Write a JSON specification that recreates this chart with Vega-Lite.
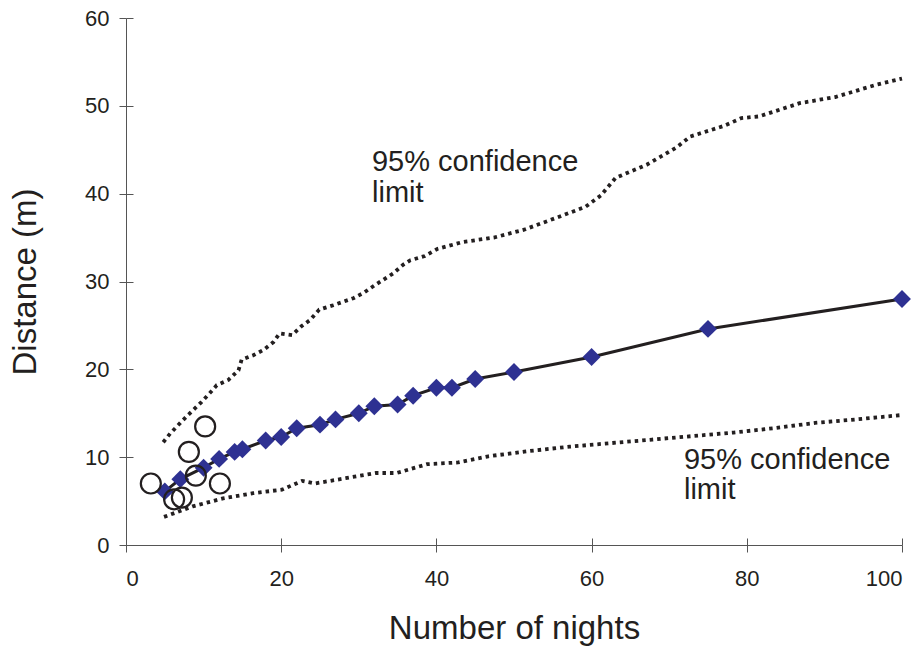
{
  "$schema": "https://vega.github.io/schema/vega-lite/v6.json",
  "width": 776,
  "height": 527,
  "autosize": {"type": "none"},
  "padding": {"left": 126, "top": 18, "right": 22, "bottom": 105},
  "background": "white",
  "config": {
    "view": {"stroke": null},
    "font": "Liberation Sans",
    "axis": {"grid": false, "domainColor": "#555555", "tickColor": "#555555", "labelColor": "#231f20", "titleColor": "#231f20", "labelFont": "Liberation Sans", "titleFont": "Liberation Sans", "titleFontWeight": "normal"}
  },
  "datasets": {
    "diamonds": [
      {"n": 5, "d": 6.1}, {"n": 7, "d": 7.5}, {"n": 10, "d": 8.8}, {"n": 12, "d": 9.8},
      {"n": 14, "d": 10.6}, {"n": 15, "d": 10.9}, {"n": 18, "d": 11.9}, {"n": 20, "d": 12.3},
      {"n": 22, "d": 13.3}, {"n": 25, "d": 13.7}, {"n": 27, "d": 14.3}, {"n": 30, "d": 15.0},
      {"n": 32, "d": 15.8}, {"n": 35, "d": 16.0}, {"n": 37, "d": 17.0}, {"n": 40, "d": 17.9},
      {"n": 42, "d": 17.9}, {"n": 45, "d": 18.9}, {"n": 50, "d": 19.7}, {"n": 60, "d": 21.4},
      {"n": 75, "d": 24.6}, {"n": 100, "d": 28.0}
    ],
    "upper": [
      {"n": 4.8, "d": 11.7}, {"n": 5.7, "d": 12.7}, {"n": 7, "d": 13.9}, {"n": 8, "d": 14.8},
      {"n": 9.75, "d": 16.3}, {"n": 10.8, "d": 17.3}, {"n": 11.7, "d": 18.2}, {"n": 13.2, "d": 18.8},
      {"n": 14.5, "d": 19.9}, {"n": 14.9, "d": 21.1}, {"n": 16.4, "d": 21.6}, {"n": 17.7, "d": 22.2},
      {"n": 19, "d": 23.1}, {"n": 19.8, "d": 24.1}, {"n": 21.4, "d": 23.9}, {"n": 22.6, "d": 24.9},
      {"n": 23.7, "d": 25.6}, {"n": 24.9, "d": 26.8}, {"n": 26.7, "d": 27.3}, {"n": 29.3, "d": 28.1},
      {"n": 30.6, "d": 28.7}, {"n": 32.1, "d": 29.6}, {"n": 34.4, "d": 30.9}, {"n": 35.7, "d": 31.9},
      {"n": 36.6, "d": 32.4}, {"n": 38.5, "d": 32.9}, {"n": 40.1, "d": 33.7}, {"n": 43.4, "d": 34.5},
      {"n": 47.4, "d": 35.0}, {"n": 51.3, "d": 35.9}, {"n": 55.3, "d": 37.2}, {"n": 59.2, "d": 38.5},
      {"n": 61.2, "d": 39.8}, {"n": 63.1, "d": 41.8}, {"n": 67.1, "d": 43.3}, {"n": 71, "d": 45.3},
      {"n": 72.7, "d": 46.5}, {"n": 77, "d": 47.7}, {"n": 79.3, "d": 48.6}, {"n": 81.6, "d": 48.8},
      {"n": 86.8, "d": 50.3}, {"n": 91.4, "d": 51.0}, {"n": 96.7, "d": 52.4}, {"n": 100, "d": 53.1}
    ],
    "lower": [
      {"n": 4.9, "d": 3.2}, {"n": 8.6, "d": 4.4}, {"n": 12.5, "d": 5.3}, {"n": 16.4, "d": 5.9},
      {"n": 20.1, "d": 6.3}, {"n": 22.7, "d": 7.3}, {"n": 24.3, "d": 7.0}, {"n": 28.3, "d": 7.6},
      {"n": 32.2, "d": 8.2}, {"n": 34.9, "d": 8.2}, {"n": 38.8, "d": 9.2}, {"n": 42.8, "d": 9.4},
      {"n": 46.7, "d": 10.1}, {"n": 52, "d": 10.7}, {"n": 57.2, "d": 11.2}, {"n": 62.5, "d": 11.6},
      {"n": 67.8, "d": 12.0}, {"n": 73, "d": 12.4}, {"n": 78.3, "d": 12.8}, {"n": 83.5, "d": 13.3},
      {"n": 88.8, "d": 13.9}, {"n": 94.1, "d": 14.3}, {"n": 100, "d": 14.8}
    ],
    "circles": [
      {"n": 3.2, "d": 7.0}, {"n": 6.2, "d": 5.2}, {"n": 7.2, "d": 5.4}, {"n": 8.1, "d": 10.6},
      {"n": 9.0, "d": 7.9}, {"n": 10.2, "d": 13.5}, {"n": 12.1, "d": 7.0}
    ],
    "labels": [
      {"n": 31.7, "d": 42.6, "t": "95% confidence"}, {"n": 31.7, "d": 39.1, "t": "limit"},
      {"n": 71.9, "d": 8.7, "t": "95% confidence"}, {"n": 71.9, "d": 5.2, "t": "limit"}
    ]
  },
  "layer": [
    {
      "data": {"name": "upper"},
      "mark": {"type": "line", "color": "#231f20", "strokeWidth": 3.8, "strokeDash": [3.5, 4]},
      "encoding": {
        "x": {"field": "n", "type": "quantitative", "scale": {"domain": [0, 100], "nice": false},
          "axis": {"orient": "bottom", "values": [0, 20, 40, 60, 80, 100], "tickSize": 7, "labelFontSize": 22, "labelPadding": 16, "title": "Number of nights", "titleFontSize": 33, "titlePadding": 23}},
        "y": {"field": "d", "type": "quantitative", "scale": {"domain": [0, 60], "nice": false},
          "axis": {"orient": "left", "values": [0, 10, 20, 30, 40, 50, 60], "tickSize": 7, "labelFontSize": 22, "labelPadding": 10, "title": "Distance (m)", "titleFontSize": 33, "titlePadding": 42}}
      }
    },
    {
      "data": {"name": "lower"},
      "mark": {"type": "line", "color": "#231f20", "strokeWidth": 3.8, "strokeDash": [3.5, 4]},
      "encoding": {
        "x": {"field": "n", "type": "quantitative", "axis": {"orient": "bottom", "values": [0, 20, 40, 60, 80, 100], "tickSize": -7, "labels": false, "domain": false, "title": null}},
        "y": {"field": "d", "type": "quantitative", "axis": {"orient": "left", "values": [0, 10, 20, 30, 40, 50, 60], "tickSize": -7, "labels": false, "domain": false, "title": null}}
      }
    },
    {
      "data": {"name": "diamonds"},
      "mark": {"type": "line", "color": "#231f20", "strokeWidth": 3},
      "encoding": {
        "x": {"field": "n", "type": "quantitative", "axis": null},
        "y": {"field": "d", "type": "quantitative", "axis": null}
      }
    },
    {
      "data": {"name": "diamonds"},
      "mark": {"type": "point", "shape": "diamond", "filled": true, "color": "#2e3192", "size": 320, "opacity": 1},
      "encoding": {
        "x": {"field": "n", "type": "quantitative", "axis": null},
        "y": {"field": "d", "type": "quantitative", "axis": null}
      }
    },
    {
      "data": {"name": "circles"},
      "mark": {"type": "point", "shape": "circle", "filled": false, "color": "#231f20", "strokeWidth": 2.2, "size": 400, "opacity": 1},
      "encoding": {
        "x": {"field": "n", "type": "quantitative", "axis": null},
        "y": {"field": "d", "type": "quantitative", "axis": null}
      }
    },
    {
      "data": {"name": "labels"},
      "mark": {"type": "text", "align": "left", "baseline": "alphabetic", "fontSize": 29, "color": "#231f20", "font": "Liberation Sans"},
      "encoding": {
        "x": {"field": "n", "type": "quantitative", "axis": null},
        "y": {"field": "d", "type": "quantitative", "axis": null},
        "text": {"field": "t"}
      }
    }
  ],
  "resolve": {"axis": {"x": "independent", "y": "independent"}}
}
